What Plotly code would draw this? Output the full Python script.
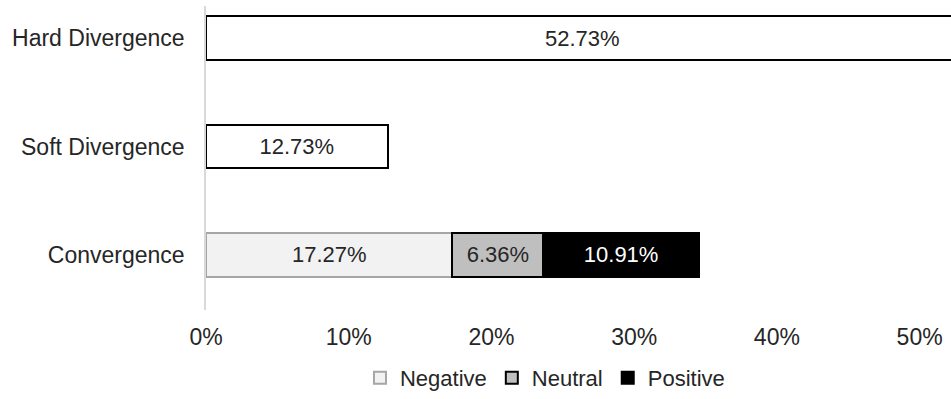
import plotly.graph_objects as go

# Share of cases by outcome (percent)
categories = ["Convergence", "Soft Divergence", "Hard Divergence"]
hard_divergence = [52.73]
soft_divergence = [12.73]
convergence_negative = [17.27]
convergence_neutral = [6.36]
convergence_positive = [10.91]
x_ticks = [0, 10, 20, 30, 40, 50]
x_tick_labels = [f"{t}%" for t in x_ticks]

FONT = "Liberation Sans, Arial, sans-serif"
TEXT = "#262626"
BAR_W = 0.405


def pct(v):
    return [f"{x:.2f}%" for x in v]


def bar(y, x, fill, edge, text_color=TEXT, name=None, legend=True):
    return go.Bar(
        name=name, y=[y] * len(x), x=x, orientation="h", width=BAR_W,
        marker=dict(color=fill, line=dict(color=edge, width=2)),
        text=pct(x), textposition="inside", insidetextanchor="middle",
        constraintext="none",
        textfont=dict(color=text_color, size=22, family=FONT),
        showlegend=legend,
    )


fig = go.Figure()
fig.add_trace(bar("Hard Divergence", hard_divergence, "white", "black", legend=False))
fig.add_trace(bar("Soft Divergence", soft_divergence, "white", "black", legend=False))
fig.add_trace(bar("Convergence", convergence_negative, "#f2f2f2", "#a6a6a6", name="Negative"))
fig.add_trace(bar("Convergence", convergence_neutral, "#bfbfbf", "black", name="Neutral"))
fig.add_trace(bar("Convergence", convergence_positive, "black", "black",
                  text_color="white", name="Positive"))

fig.update_layout(
    width=951, height=399,
    margin=dict(l=206, r=0, t=6, b=89),
    paper_bgcolor="white", plot_bgcolor="white",
    barmode="stack",
    font=dict(family=FONT, size=22, color=TEXT),
    xaxis=dict(
        range=[0, 52.2], tickmode="array", tickvals=x_ticks, ticktext=x_tick_labels,
        showgrid=False, zeroline=False, showline=False,
        ticks="", ticklabelstandoff=11,
        tickfont=dict(size=23, color=TEXT),
    ),
    yaxis=dict(
        type="category", categoryorder="array", categoryarray=categories,
        range=[-0.507, 2.295],
        showgrid=False, zeroline=False,
        showline=True, linecolor="#d9d9d9", linewidth=1.5,
        ticks="", ticklabelstandoff=15,
        tickfont=dict(size=23, color=TEXT),
    ),
    legend=dict(
        orientation="h", x=0.455, xanchor="center", y=-0.2925, yanchor="bottom",
        font=dict(size=22, color=TEXT), itemclick=False,
        traceorder="normal",
    ),
)

fig.write_html("out.html")
